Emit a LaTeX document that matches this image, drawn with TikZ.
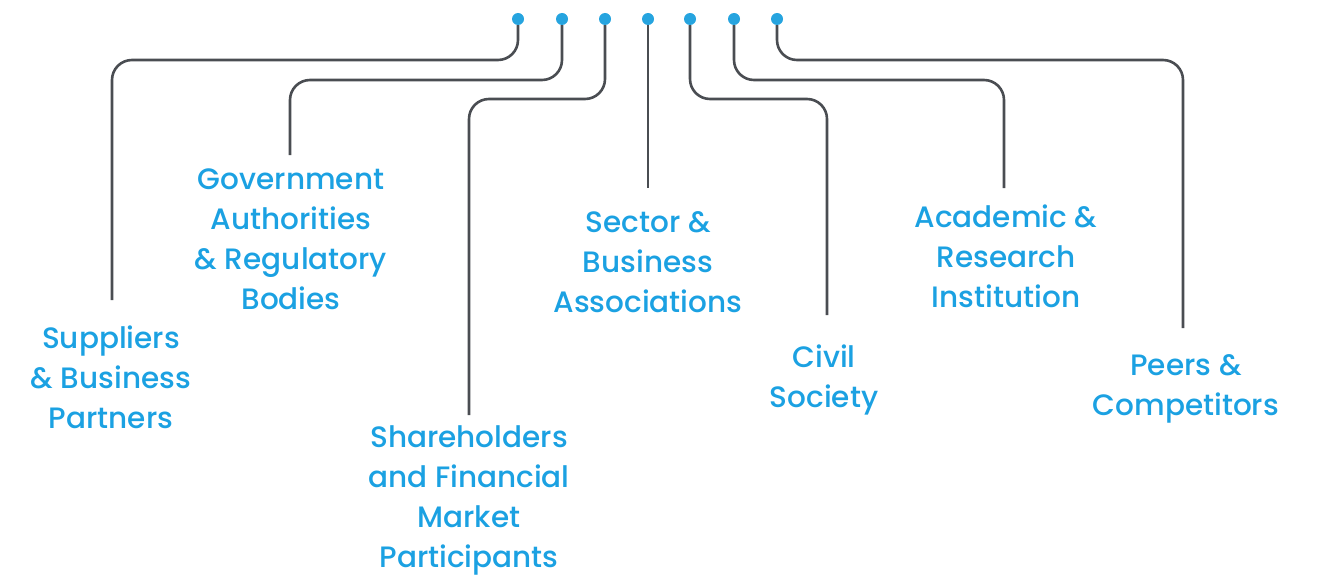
\documentclass[tikz,border=0pt]{standalone}
\usepackage{fontspec}
\setmainfont{Poppins}[UprightFont=* Medium]
\usepackage{tikz}

\definecolor{linegray}{HTML}{4A4D52}
\definecolor{textblue}{HTML}{1BA1E2}
\definecolor{dotblue}{HTML}{26A4DF}

\begin{document}
\begin{tikzpicture}[x=1pt, y=-1pt,
  dot/.style={circle, fill=dotblue, inner sep=0pt, minimum size=12pt},
  link/.style={linegray, line width=2.6pt, rounded corners=20pt},
  label/.style={textblue, align=center, anchor=base, inner sep=0pt,
    font=\fontsize{29.5}{40}\selectfont}]

\useasboundingbox ( 0, 0 ) rectangle ( 1319, 575 );

% Dots
\node [dot] (d1) at ( 518, 19 ) {};
\node [dot] (d2) at ( 562, 19 ) {};
\node [dot] (d3) at ( 605, 19 ) {};
\node [dot] (d4) at ( 648, 19 ) {};
\node [dot] (d5) at ( 690, 19 ) {};
\node [dot] (d6) at ( 734, 19 ) {};
\node [dot] (d7) at ( 777, 19 ) {};

% Line ends
\coordinate (sup) at ( 112, 300 );
\coordinate (gov) at ( 290, 155 );
\coordinate (sha) at ( 469, 415 );
\coordinate (sec) at ( 648, 188 );
\coordinate (civ) at ( 827, 315 );
\coordinate (aca) at ( 1004, 188 );
\coordinate (pee) at ( 1183, 328 );

% Links
\draw [link] (d1) |- (sup |- 0,60) -- (sup);
\draw [link] (d2) |- (gov |- 0,80) -- (gov);
\draw [link] (d3) |- (sha |- 0,99) -- (sha);
\draw [link] (d4) -- (sec);
\draw [link] (d5) |- (civ |- 0,99) -- (civ);
\draw [link] (d6) |- (aca |- 0,80) -- (aca);
\draw [link] (d7) |- (pee |- 0,60) -- (pee);

% Labels (placed at the baseline of the last line)
\node [label] (sup-t) at ( 111, 428 ) {Suppliers\\\& Business\\Partners};
\node [label] (gov-t) at ( 291, 309 ) {Government\\Authorities\\\& Regulatory\\Bodies};
\node [label] (sha-t) at ( 469, 567 ) {Shareholders\\and Financial\\Market\\Participants};
\node [label] (sec-t) at ( 648, 312 ) {Sector \&\\Business\\Associations};
\node [label] (civ-t) at ( 824, 407 ) {Civil\\Society};
\node [label] (aca-t) at ( 1006, 307 ) {Academic \&\\Research\\Institution};
\node [label] (pee-t) at ( 1186, 415 ) {Peers \&\\Competitors};

\end{tikzpicture}
\end{document}
